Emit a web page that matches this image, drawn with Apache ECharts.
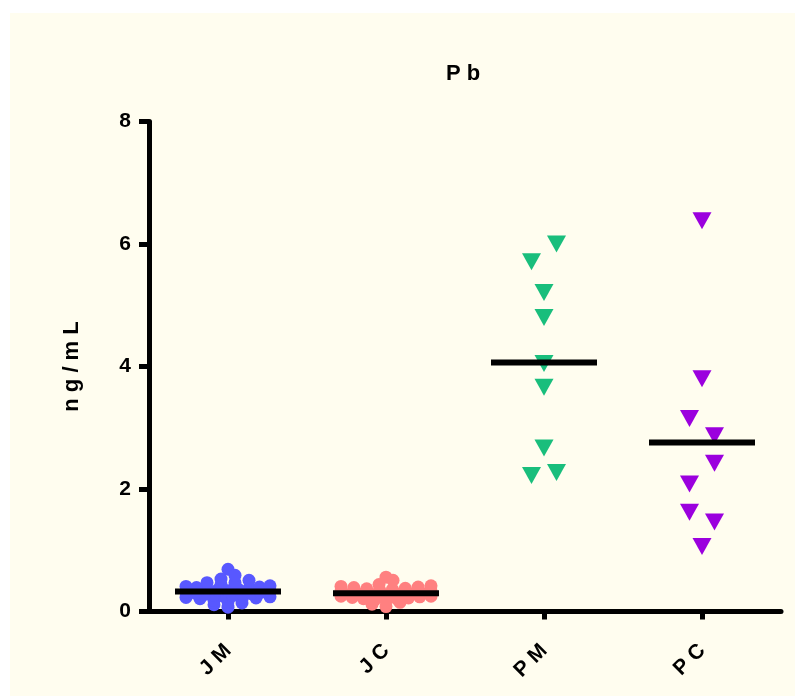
<!DOCTYPE html>
<html>
<head>
<meta charset="utf-8">
<script src="https://cdn.jsdelivr.net/npm/echarts@6/dist/echarts.min.js"></script>
<style>
  html, body { margin: 0; padding: 0; background: #ffffff; }
  #chart { width: 795px; height: 696px; }
</style>
</head>
<body>
<div id="chart"></div>
<script>
// ---- data ----
const categories = ['J M', 'J C', 'P M', 'P C'];
const jmValues = [0.07, 0.11, 0.14, 0.16, 0.18, 0.20, 0.21, 0.22, 0.23, 0.24, 0.25, 0.26,
                  0.27, 0.28, 0.28, 0.29, 0.30, 0.31, 0.32, 0.33, 0.34, 0.35, 0.36, 0.37,
                  0.38, 0.39, 0.40, 0.41, 0.42, 0.44, 0.47, 0.47, 0.53, 0.51, 0.69, 0.59];
const jcValues = [0.08, 0.12, 0.15, 0.17, 0.19, 0.20, 0.21, 0.22, 0.23, 0.24, 0.25, 0.25,
                  0.26, 0.27, 0.28, 0.29, 0.30, 0.31, 0.32, 0.33, 0.34, 0.35, 0.36, 0.37,
                  0.38, 0.39, 0.40, 0.41, 0.42, 0.44, 0.51, 0.56];
const pmValues = [2.22, 2.27, 2.67, 3.66, 4.05, 4.80, 5.21, 5.71, 6.00];
const pcValues = [1.06, 1.62, 1.46, 2.08, 2.42, 3.15, 2.87, 3.80, 6.38];
const yTickValues = [0, 2, 4, 6, 8];
const titleText = 'P b';
const yAxisTitle = 'n g / m L';

// ---- styles ----
const FONT = "'Liberation Sans', Arial, sans-serif";
const groups = [
  { values: jmValues, color: '#5858FF', symbol: 'circle', size: 13, rotate: 0, rowGap: 5, spacing: 14, maxHalf: 42 },
  { values: jcValues, color: '#FF8080', symbol: 'circle', size: 13, rotate: 0, rowGap: 5, spacing: 14, maxHalf: 45 },
  { values: pmValues, color: '#19BE7C', symbol: 'triangle', size: [19, 17], rotate: 180, rowGap: 23, spacing: 25, maxHalf: 40 },
  { values: pcValues, color: '#9B00DE', symbol: 'triangle', size: [19, 17], rotate: 180, rowGap: 23, spacing: 25, maxHalf: 40 }
];

const chart = echarts.init(document.getElementById('chart'), null, { renderer: 'canvas' });

const baseOption = {
  animation: false,
  backgroundColor: '#ffffff',
  graphic: [{
    type: 'rect', left: 10, top: 13, z: -10,
    shape: { width: 785, height: 683 },
    style: { fill: '#FFFDEF' }
  }],
  title: {
    text: titleText, left: 458, top: 58, textAlign: 'center',
    textStyle: { fontFamily: FONT, fontWeight: 'bold', fontSize: 22, color: '#000' }
  },
  grid: { left: 149, right: 14, top: 121.5, bottom: 84.5, containLabel: false },
  xAxis: {
    type: 'category', data: categories, boundaryGap: true,
    axisLine: { lineStyle: { color: '#000', width: 5 } },
    axisTick: { show: true, alignWithLabel: true, length: 8, lineStyle: { color: '#000', width: 5 } },
    axisLabel: { rotate: 45, margin: 36, fontFamily: FONT, fontWeight: 'bold', fontSize: 21, color: '#000' },
    splitLine: { show: false }
  },
  yAxis: {
    type: 'value', min: yTickValues[0], max: yTickValues[yTickValues.length - 1],
    interval: yTickValues[1] - yTickValues[0],
    name: yAxisTitle, nameLocation: 'middle', nameGap: 66, nameRotate: 90,
    nameTextStyle: { fontFamily: FONT, fontWeight: 'bold', fontSize: 22, color: '#000' },
    axisLine: { show: true, lineStyle: { color: '#000', width: 5 } },
    axisTick: { show: true, length: 10, lineStyle: { color: '#000', width: 5 } },
    axisLabel: { margin: 18, fontFamily: FONT, fontWeight: 'bold', fontSize: 21, color: '#000' },
    splitLine: { show: false }
  },
  series: []
};
chart.setOption(baseOption);

// pixel scale from the axis itself
const pxPerUnit = chart.convertToPixel({ yAxisIndex: 0 }, 0) - chart.convertToPixel({ yAxisIndex: 0 }, 1);

// row-based dot-plot spreading (points of similar value are spread side by side, centre-out)
function spread(values, rowGap, spacing, maxHalf) {
  const order = values.map((v, i) => i).sort((a, b) => values[a] - values[b] || a - b);
  const rows = [];
  let cur = null;
  for (const i of order) {
    if (cur && (values[i] - values[cur[0]]) * pxPerUnit < rowGap) cur.push(i);
    else { cur = [i]; rows.push(cur); }
  }
  const off = new Array(values.length).fill(0);
  for (const row of rows) {
    row.sort((a, b) => a - b);
    const n = row.length;
    const s = n > 1 ? Math.min(spacing, 2 * maxHalf / (n - 1)) : 0;
    const slots = [];
    if (n % 2) { slots.push(0); for (let k = 1; slots.length < n; k++) slots.push(-k * s, k * s); }
    else { for (let k = 0; slots.length < n; k++) slots.push(-(k + 0.5) * s, (k + 0.5) * s); }
    row.forEach((idx, j) => { off[idx] = slots[j]; });
  }
  return off;
}

const series = [];
groups.forEach((g, ci) => {
  const off = spread(g.values, g.rowGap, g.spacing, g.maxHalf);
  series.push({
    type: 'scatter', name: categories[ci], z: 2,
    symbol: g.symbol, symbolSize: g.size, symbolRotate: g.rotate,
    itemStyle: { color: g.color, opacity: 1 },
    data: g.values.map((v, i) => ({ value: [ci, v], symbolOffset: [off[i], 0] }))
  });
});
// mean lines
const means = groups.map(g => g.values.reduce((a, b) => a + b, 0) / g.values.length);
series.push({
  type: 'scatter', name: 'mean', z: 5,
  symbol: 'rect', symbolSize: [106, 6],
  itemStyle: { color: '#000', opacity: 1 },
  data: means.map((m, ci) => [ci, m])
});
chart.setOption({ series: series });
</script>
</body>
</html>
